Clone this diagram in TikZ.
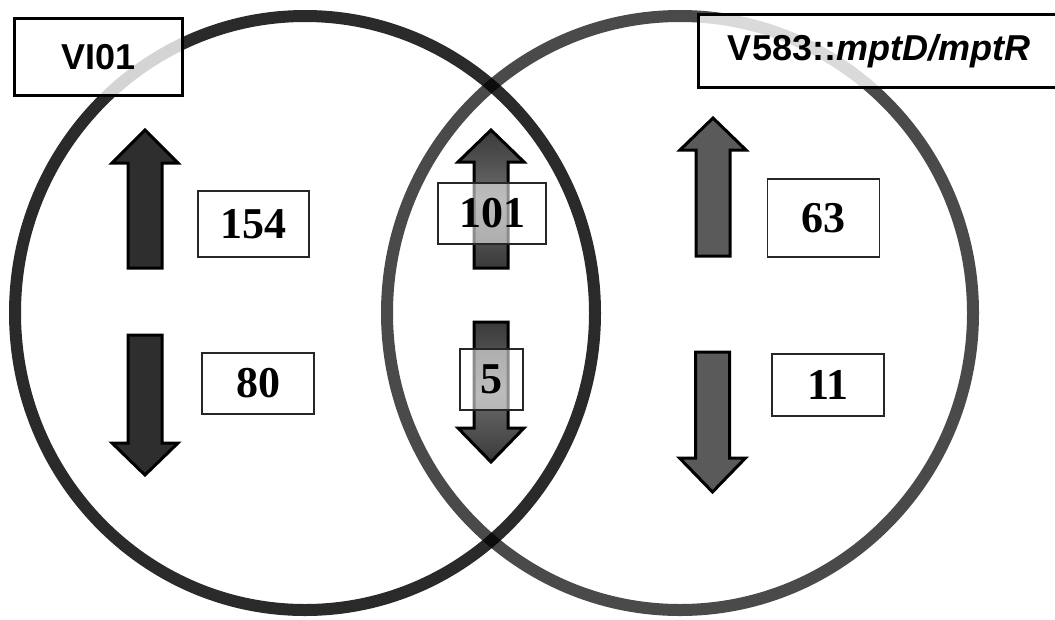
\documentclass[tikz,border=0pt]{standalone}
\usepackage{fontspec}
\setmainfont{Liberation Serif}
\newfontfamily\labfont{Liberation Sans}
\definecolor{leftline}{HTML}{2A2A2A}
\definecolor{rightline}{HTML}{4A4A4A}
\definecolor{leftarrow}{HTML}{2E2E2E}
\definecolor{rightarrow}{HTML}{5A5A5A}
\definecolor{midend}{HTML}{3A3A3A}
\definecolor{midmid}{HTML}{6C6C6C}
\begin{document}
\begin{tikzpicture}[x=1pt,y=-1pt,
  numbox/.style={draw=black!85, line width=1.8pt, fill=white, inner sep=0pt,
    font=\fontsize{44}{48}\selectfont\bfseries},
  seebox/.style={numbox, fill opacity=0.55, text opacity=1},
  labbox/.style={draw=black, line width=3pt, fill=white, fill opacity=0.8,
    text opacity=1, inner sep=0pt, font=\labfont\fontsize{36}{40}\selectfont\bfseries},
  darrow/.style={draw=black, line width=3pt, fill=leftarrow, line join=miter},
  garrow/.style={draw=black, line width=3pt, fill=rightarrow, line join=miter},
  marrow/.style={draw=black, line width=3pt, top color=midend, bottom color=midend,
    middle color=midmid, line join=miter},
  venn/.style={line width=12pt}
]
\useasboundingbox (0,0) rectangle (1055,619);

% circles
\draw[venn, draw=leftline] (305,313) ellipse [x radius=290, y radius=297];
\begin{scope}[blend mode=multiply]
\draw[venn, draw=rightline] (680,313) ellipse [x radius=293, y radius=297];
\end{scope}

% left arrows
\draw[darrow] (145,130) -- (178,163) -- (162,163) -- (162,268) -- (128,268) -- (128,163) -- (112,163) -- cycle;
\draw[darrow] (145,475) -- (178,443) -- (162,443) -- (162,335) -- (128,335) -- (128,443) -- (112,443) -- cycle;

% middle arrows
\draw[marrow] (491,130) -- (524,162) -- (508,162) -- (508,268) -- (474,268) -- (474,162) -- (458,162) -- cycle;
\draw[marrow] (491,462) -- (524,428) -- (508,428) -- (508,322) -- (474,322) -- (474,428) -- (458,428) -- cycle;

% right arrows
\draw[garrow] (713,118) -- (746,150) -- (730,150) -- (730,256) -- (696,256) -- (696,150) -- (680,150) -- cycle;
\draw[garrow] (712.5,492) -- (745.5,458) -- (729.5,458) -- (729.5,352) -- (695.5,352) -- (695.5,458) -- (679.5,458) -- cycle;

% number boxes
\node[numbox, minimum width=111, minimum height=66] (n154) at (253.5,224) {154};
\node[numbox, minimum width=112, minimum height=61] (n80) at (258,383.5) {80};
\node[numbox, minimum width=112, minimum height=78] (n63) at (823.5,218) {63};
\node[numbox, minimum width=112, minimum height=62] (n11) at (828,385) {11};
\node[seebox, minimum width=108, minimum height=61] (n101) at (492,213.5) {101};
\node[seebox, minimum width=63, minimum height=61] (n5) at (491.5,379.5) {5};

% labels
\node[labbox, minimum width=168, minimum height=77] (vi01) at (98.5,57) {VI01};
\node[labbox, minimum width=361, minimum height=73] (v583) at (879,51) {V583::\itshape mptD/mptR};
\end{tikzpicture}
\end{document}
